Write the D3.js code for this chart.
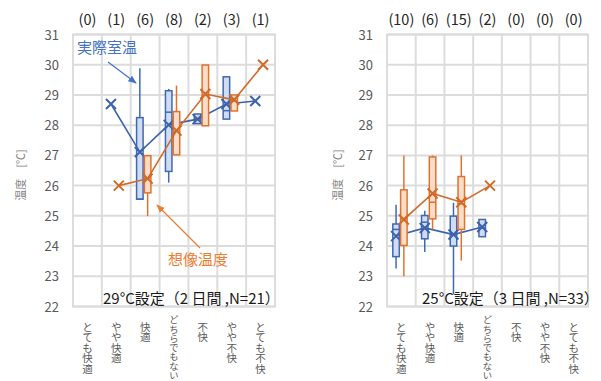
<!DOCTYPE html>
<html>
<head>
<meta charset="utf-8">
<script src="https://cdn.jsdelivr.net/npm/d3@7"></script>
<style>
  html, body { margin: 0; padding: 0; background: #fff; }
  svg { display: block; font-family: "Noto Sans CJK JP", "Noto Sans", sans-serif; }
</style>
</head>
<body>
<svg id="chart" width="601" height="381"></svg>
<script>
// Comfort categories along the x axis
const categories = ["とても快適", "やや快適", "快適", "どちらでもない", "不快", "やや不快", "とても不快"];
const yTicks = [22, 23, 24, 25, 26, 27, 28, 29, 30, 31];

// Number of answers per category
const counts29 = [0, 1, 6, 8, 2, 3, 1];
const counts25 = [10, 6, 15, 2, 0, 0, 0];

// Box statistics: [min, q1, median, q3, max, mean]; null = no answers
const actual29 = [
  null,
  [28.7, 28.7, 28.7, 28.7, 28.7, 28.7],
  [25.55, 25.55, 25.55, 28.25, 29.88, 27.11],
  [26.1, 26.47, 28.43, 29.14, 29.2, 28.01],
  [28.05, 28.05, 28.2, 28.37, 28.37, 28.2],
  [28.2, 28.2, 28.48, 29.6, 29.6, 28.7],
  [28.8, 28.8, 28.8, 28.8, 28.8, 28.8]
];
const imagined29 = [
  null,
  [26.0, 26.0, 26.0, 26.0, 26.0, 26.0],
  [24.99, 25.76, 26.25, 26.99, 26.99, 26.23],
  [27.02, 27.02, 27.8, 28.45, 29.31, 27.82],
  [27.98, 27.98, 29.0, 29.99, 29.99, 29.03],
  [28.47, 28.47, 28.8, 29.0, 29.0, 28.84],
  [30.0, 30.0, 30.0, 30.0, 30.0, 30.0]
];
const actual25 = [
  [23.26, 23.65, 24.55, 24.73, 25.37, 24.33],
  [23.8, 24.24, 24.79, 25.01, 25.17, 24.6],
  [22.4, 24.0, 24.4, 24.99, 25.43, 24.38],
  [24.31, 24.31, 24.6, 24.88, 24.88, 24.63],
  null, null, null
];
const imagined25 = [
  [23.0, 24.02, 24.9, 25.86, 27.0, 24.88],
  [24.55, 24.9, 25.45, 26.95, 27.0, 25.74],
  [23.52, 24.55, 25.4, 26.3, 27.0, 25.45],
  [26.0, 26.0, 26.0, 26.0, 26.0, 26.0],
  null, null, null
];

const BLUE = { stroke: "#4068b3", fill: "#cfdcf2", line: "#3d63ad" };
const ORANGE = { stroke: "#dd7330", fill: "#fbdcc6", line: "#d06a28" };

const svg = d3.select("#chart");

// Arrow heads for the two callouts
const defs = svg.append("defs");
[["arrowBlue", "#4472c4"], ["arrowOrange", "#ed7d31"]].forEach(([id, c]) => {
  defs.append("marker")
    .attr("id", id).attr("viewBox", "0 0 10 10")
    .attr("refX", 9).attr("refY", 5)
    .attr("markerWidth", 7).attr("markerHeight", 7)
    .attr("orient", "auto-start-reverse")
    .append("path").attr("d", "M0,1 L10,5 L0,9 Z").attr("fill", c);
});

function drawPanel(opt) {
  const g = svg.append("g");
  const x = d3.scaleBand().domain(categories).range([opt.left, opt.right]);
  const y = d3.scaleLinear().domain([22, 31]).range([306.5, 34.5]);

  // grid
  const grid = g.append("g").attr("stroke", "#dcdcdc").attr("stroke-width", 2);
  grid.selectAll("line.h").data(yTicks).join("line")
    .attr("x1", opt.left).attr("x2", opt.right)
    .attr("y1", d => y(d)).attr("y2", d => y(d));
  grid.selectAll("line.v").data(categories.slice(1)).join("line")
    .attr("x1", d => x(d)).attr("x2", d => x(d))
    .attr("y1", y(31)).attr("y2", y(22));
  grid.append("rect")
    .attr("x", opt.left).attr("y", y(31))
    .attr("width", opt.right - opt.left).attr("height", y(22) - y(31))
    .attr("fill", "none");

  // y tick labels
  const yAxis = g.append("g").attr("transform", `translate(${opt.left - 14},0)`)
    .call(d3.axisLeft(y).tickValues(yTicks).tickSize(0).tickPadding(0));
  yAxis.select(".domain").remove();
  yAxis.selectAll("text").attr("fill", "#595959").style("font-size", "13px")
    .style("font-family", "'Noto Sans CJK JP', sans-serif").attr("dy", "0.35em");

  // y title
  g.append("text")
    .attr("transform", `translate(${opt.titleX},175) rotate(-90)`)
    .attr("text-anchor", "middle").attr("dominant-baseline", "central")
    .attr("fill", "#7f7f7f").style("font-size", "11px")
    .text("温度\u3000[℃]");

  // x category labels, one upright character per line
  const xAxis = g.append("g").attr("transform", `translate(0,${y(22)})`)
    .call(d3.axisBottom(x).tickSize(0).tickPadding(0));
  xAxis.select(".domain").remove();
  xAxis.selectAll("text").each(function (d) {
    const chars = Array.from(d);
    // the long label is set a little tighter so it stays on the page
    const long = chars.length > 6;
    const pitch = long ? 9.3 : 10.6;
    const size = long ? 9.3 : 10.5;
    const first = long ? 16.7 : 24;
    const t = d3.select(this).text(null)
      .attr("y", null).attr("dy", null)
      .attr("text-anchor", "middle")
      .style("font-size", size + "px")
      .style("font-family", "'Noto Sans CJK JP', sans-serif")
      .attr("fill", "#595959");
    chars.forEach((c, k) => {
      t.append("tspan").attr("x", 0).attr("y", first + k * pitch).text(c);
    });
  });

  // counts above each column
  g.selectAll("text.count").data(opt.counts).join("text")
    .attr("class", "count")
    .attr("x", (d, i) => x(categories[i]) + x.bandwidth() / 2)
    .attr("y", 25)
    .attr("text-anchor", "middle")
    .attr("fill", "#262626").style("font-size", "14.5px")
    .text(d => `(${d})`);

  // box plots + mean lines
  function series(data, col, off) {
    const bw = 6.5;
    const cx = i => x(categories[i]) + x.bandwidth() / 2 + off;
    const s = g.append("g");
    data.forEach((d, i) => {
      if (!d) return;
      const [mn, q1, md, q3, mx] = d;
      if (q3 > q1) {
        s.append("line").attr("x1", cx(i)).attr("x2", cx(i))
          .attr("y1", y(mx)).attr("y2", y(q3))
          .attr("stroke", col.stroke).attr("stroke-width", 1.5);
        s.append("line").attr("x1", cx(i)).attr("x2", cx(i))
          .attr("y1", y(q1)).attr("y2", y(mn))
          .attr("stroke", col.stroke).attr("stroke-width", 1.5);
        s.append("rect").attr("x", cx(i) - bw / 2).attr("width", bw)
          .attr("y", y(q3)).attr("height", y(q1) - y(q3))
          .attr("fill", col.fill).attr("stroke", col.stroke).attr("stroke-width", 1.5);
        s.append("line").attr("x1", cx(i) - bw / 2).attr("x2", cx(i) + bw / 2)
          .attr("y1", y(md)).attr("y2", y(md))
          .attr("stroke", col.stroke).attr("stroke-width", 1.5);
      }
    });
    const pts = data.map((d, i) => d ? [cx(i), y(d[5])] : null).filter(Boolean);
    s.append("path").attr("d", d3.line()(pts))
      .attr("fill", "none").attr("stroke", col.line).attr("stroke-width", 1.6);
    const r = 5;
    s.selectAll("path.x").data(pts).join("path")
      .attr("d", p => `M${p[0] - r},${p[1] - r}L${p[0] + r},${p[1] + r}M${p[0] - r},${p[1] + r}L${p[0] + r},${p[1] - r}`)
      .attr("stroke", col.line).attr("stroke-width", 2).attr("fill", "none");
  }
  series(opt.actual, BLUE, -5.3);
  series(opt.imagined, ORANGE, 2.5);

  // condition note
  g.append("text")
    .attr("x", opt.noteX).attr("y", 304)
    .attr("fill", "#1a1a1a").style("font-size", "15px")
    .text(opt.note);
  return { x, y };
}

drawPanel({
  left: 73, right: 275, titleX: 20,
  counts: counts29, actual: actual29, imagined: imagined29,
  noteX: 103, note: "29°C設定（2 日間 ,N=21）"
});
drawPanel({
  left: 387, right: 588, titleX: 337,
  counts: counts25, actual: actual25, imagined: imagined25,
  noteX: 422, note: "25°C設定（3 日間 ,N=33）"
});

// callouts
svg.append("text").attr("x", 77).attr("y", 53)
  .attr("fill", "#4472c4").style("font-size", "15px").text("実際室温");
svg.append("line").attr("x1", 108).attr("y1", 62).attr("x2", 136).attr("y2", 83)
  .attr("stroke", "#4472c4").attr("stroke-width", 1.2).attr("marker-end", "url(#arrowBlue)");
svg.append("text").attr("x", 168).attr("y", 265)
  .attr("fill", "#ed7d31").style("font-size", "15px").text("想像温度");
svg.append("line").attr("x1", 200).attr("y1", 248).attr("x2", 157).attr("y2", 205)
  .attr("stroke", "#ed7d31").attr("stroke-width", 1.2).attr("marker-end", "url(#arrowOrange)");
</script>
</body>
</html>
